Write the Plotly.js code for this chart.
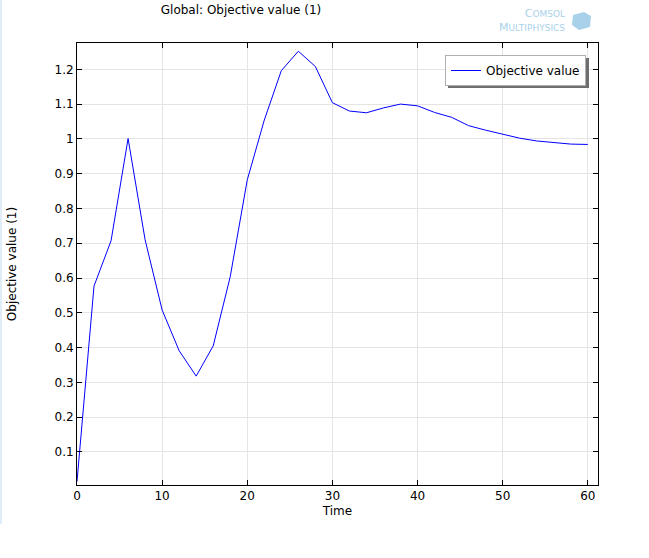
<!DOCTYPE html>
<html>
<head>
<meta charset="utf-8">
<script src="https://cdn.plot.ly/plotly-3.0.1.min.js"></script>
<style>html,body{margin:0;padding:0;background:#fff;}#chart{width:649px;height:558px;}</style>
</head>
<body>
<div id="chart"></div>
<script>
const timeValues = [0, 2, 4, 6, 8, 10, 12, 14, 16, 18, 20, 22, 24, 26, 28, 30, 32, 34, 36, 38, 40, 42, 44, 46, 48, 50, 52, 54, 56, 58, 60];
const objectiveValues = [0.015, 0.577, 0.707, 1.001, 0.71, 0.508, 0.391, 0.318, 0.405, 0.604, 0.882, 1.054, 1.196, 1.252, 1.208, 1.104, 1.080, 1.075, 1.089, 1.100, 1.095, 1.076, 1.062, 1.038, 1.025, 1.013, 1.002, 0.994, 0.989, 0.985, 0.984];
const xTickVals = [0, 10, 20, 30, 40, 50, 60];
const xTickText = ['0', '10', '20', '30', '40', '50', '60'];
const yTickVals = [0.1, 0.2, 0.3, 0.4, 0.5, 0.6, 0.7, 0.8, 0.9, 1, 1.1, 1.2];
const yTickText = ['0.1', '0.2', '0.3', '0.4', '0.5', '0.6', '0.7', '0.8', '0.9', '1', '1.1', '1.2'];

const W = 649, H = 558, L = 77, R = 51, T = 43, B = 73;
const pw = W - L - R, ph = H - T - B;
const px = x => (x - L) / pw;
const py = y => (H - B - y) / ph;

const font = {family: 'DejaVu Sans, sans-serif', size: 12, color: '#000'};

const trace = {
  x: timeValues, y: objectiveValues, type: 'scatter', mode: 'lines',
  name: 'Objective value', line: {color: '#0000ff', width: 1}
};

const axisCommon = {
  showline: true, linecolor: '#000', linewidth: 1, mirror: 'ticks',
  ticks: 'inside', ticklen: 5, tickcolor: '#000', tickwidth: 1,
  showgrid: true, gridcolor: '#e4e4e4', gridwidth: 1, zeroline: false,
  tickfont: font, tickmode: 'array'
};

const layout = {
  width: W, height: H,
  margin: {l: L, r: R, t: T, b: B, pad: 0},
  paper_bgcolor: '#fff', plot_bgcolor: '#fff',
  font: font,
  showlegend: true,
  title: {text: 'Global: Objective value (1)', font: font, x: 241 / W, xref: 'container', xanchor: 'center', y: 1 - 10 / H, yref: 'container', yanchor: 'middle'},
  xaxis: Object.assign({}, axisCommon, {range: [0, 61.2], tickvals: xTickVals, ticktext: xTickText,
    title: {text: 'Time', font: font, standoff: 4}}),
  yaxis: Object.assign({}, axisCommon, {range: [0.005, 1.2756], tickvals: yTickVals, ticktext: yTickText,
    title: {text: 'Objective value (1)', font: font, standoff: 35}}),
  legend: {x: px(586), y: py(55), xanchor: 'right', yanchor: 'top', bgcolor: '#fff',
    bordercolor: '#b0b0b0', borderwidth: 1, font: font},
  shapes: [
    {type: 'line', xref: 'paper', yref: 'paper', x0: px(1), x1: px(1), y0: py(0), y1: py(524),
      line: {color: '#d6e6f4', width: 1.5}},
    {type: 'rect', xref: 'paper', yref: 'paper', x0: px(448), x1: px(589), y0: py(58), y1: py(88),
      line: {width: 0}, fillcolor: '#6e6e6e', layer: 'above'},
    {type: 'path', xref: 'paper', yref: 'paper',
      path: 'M' + px(573) + ',' + py(15) + ' L' + px(584) + ',' + py(12) + ' L' + px(591) + ',' + py(16) + ' L' + px(590) + ',' + py(27) + ' L' + px(579) + ',' + py(30) + ' L' + px(572) + ',' + py(25) + ' Z',
      fillcolor: '#a9d2ea', line: {width: 0}}
  ],
  annotations: [
    {text: 'C<span style="font-size:9px">OMSOL</span><br>M<span style="font-size:9px">ULTIPHYSICS</span>', xref: 'paper', yref: 'paper', x: px(567), y: py(21), xanchor: 'right', yanchor: 'middle', align: 'right', showarrow: false,
      font: {family: 'DejaVu Sans, sans-serif', size: 11, color: '#a9d2ea'}}
  ]
};

Plotly.newPlot('chart', [trace], layout, {displayModeBar: false, staticPlot: true});
</script>
</body>
</html>
